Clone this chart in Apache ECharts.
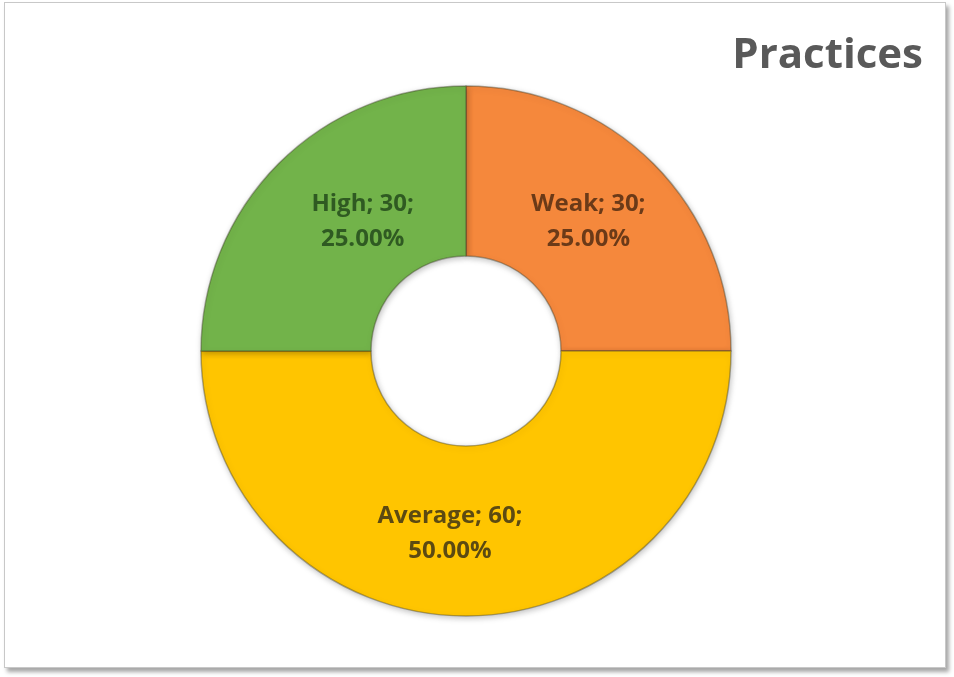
<!DOCTYPE html>
<html><head><meta charset="utf-8">
<script src="https://cdn.jsdelivr.net/npm/echarts@6/dist/echarts.min.js"></script>
<style>
html,body{margin:0;padding:0;background:#fff;width:954px;height:677px;overflow:hidden}
#frame{position:absolute;left:4px;top:2px;width:940px;height:664px;border:1px solid #c8c8c8;box-shadow:3px 4px 4px rgba(0,0,0,0.35);background:#fff}
#c{position:absolute;left:0;top:0;width:954px;height:677px}
</style></head>
<body><div id="frame"></div><div id="c"></div>
<script>
const categories = ['Weak', 'Average', 'High'];
const values = [30, 60, 30];
const percents = ['25.00%', '50.00%', '25.00%'];
const colors = ['#F5883C', '#FFC500', '#72B34A'];
const labelColors = ['#6B3A18', '#5C4A12', '#2F5A22'];
const labelPads = [[0, 14, 0, 0], [0, 32, 0, 0], [0, 0, 0, 52]];

const chart = echarts.init(document.getElementById('c'));
chart.setOption({
  animation: false,
  title: {
    text: 'Practices', right: 26, top: 30,
    textStyle: {fontFamily: 'Open Sans', fontWeight: 'bold', fontSize: 42, color: '#595959'}
  },
  series: [{
    type: 'pie',
    center: [466, 351],
    radius: [95, 265],
    startAngle: 90,
    clockwise: true,
    data: categories.map((c, i) => ({
      name: c, value: values[i],
      itemStyle: {color: colors[i]},
      label: {color: labelColors[i], padding: labelPads[i], formatter: c + '; ' + values[i] + ';\n' + percents[i]}
    })),
    itemStyle: {borderColor: 'rgba(60,60,40,0.4)', borderWidth: 1.5,
      shadowColor: 'rgba(0,0,0,0.25)', shadowBlur: 6, shadowOffsetX: 1, shadowOffsetY: 2},
    label: {show: true, position: 'inside', fontFamily: 'Open Sans', fontWeight: 'bold',
      fontSize: 24, lineHeight: 35, align: 'center'},
    labelLine: {show: false}
  }]
});
</script></body></html>
